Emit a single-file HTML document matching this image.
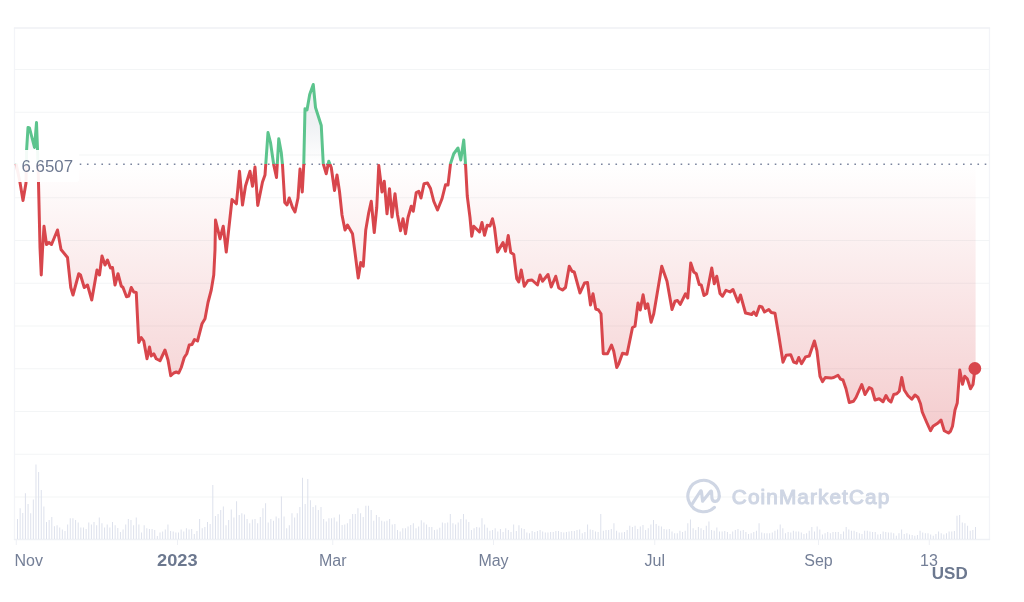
<!DOCTYPE html>
<html><head><meta charset="utf-8"><title>Chart</title>
<style>
html,body{margin:0;padding:0;background:#fff;}
body{width:1024px;height:602px;overflow:hidden;font-family:"Liberation Sans",sans-serif;}
svg{display:block}
text{font-family:"Liberation Sans",sans-serif;}
</style></head><body>
<svg width="1024" height="602" viewBox="0 0 1024 602">
<defs>
<linearGradient id="rg" gradientUnits="userSpaceOnUse" x1="0" y1="164" x2="0" y2="436">
<stop offset="0" stop-color="#d64046" stop-opacity="0"/>
<stop offset="1" stop-color="#d64046" stop-opacity="0.27"/>
</linearGradient>
<linearGradient id="gg" gradientUnits="userSpaceOnUse" x1="0" y1="164" x2="0" y2="84">
<stop offset="0" stop-color="#8693a8" stop-opacity="0"/>
<stop offset="0.5" stop-color="#8693a8" stop-opacity="0.13"/>
<stop offset="1" stop-color="#8693a8" stop-opacity="0.13"/>
</linearGradient>
<clipPath id="up"><rect x="0" y="0" width="1024" height="164"/></clipPath>
<clipPath id="dn"><rect x="0" y="164" width="1024" height="440"/></clipPath>
</defs>
<rect width="1024" height="602" fill="#fff"/>
<g stroke="#f3f5f6" stroke-width="1.2" fill="none"><line x1="15" y1="69.5" x2="989" y2="69.5"/><line x1="15" y1="112.25" x2="989" y2="112.25"/><line x1="15" y1="155" x2="989" y2="155"/><line x1="15" y1="197.75" x2="989" y2="197.75"/><line x1="15" y1="240.5" x2="989" y2="240.5"/><line x1="15" y1="283.25" x2="989" y2="283.25"/><line x1="15" y1="326" x2="989" y2="326"/><line x1="15" y1="368.75" x2="989" y2="368.75"/><line x1="15" y1="411.5" x2="989" y2="411.5"/><line x1="15" y1="454.25" x2="989" y2="454.25"/><line x1="15" y1="497" x2="989" y2="497"/></g>
<path d="M14.5,28V539.5M989.5,28V539.5" fill="none" stroke="#f3f4f8" stroke-width="1.3"/><path d="M13.85,28H990.15M13.85,539.5H990.15" fill="none" stroke="#eff1f5" stroke-width="1.3"/>
<path d="M17.50,539V519.00M20.14,539V508.25M22.78,539V513.00M25.42,539V493.25M28.06,539V504.00M30.70,539V513.25M33.33,539V499.50M35.97,539V464.50M38.61,539V472.00M41.25,539V490.00M43.89,539V506.50M46.53,539V522.00M49.17,539V520.00M51.81,539V517.00M54.45,539V526.25M57.09,539V525.25M59.73,539V527.50M62.37,539V529.50M65.00,539V531.00M67.64,539V524.50M70.28,539V518.25M72.92,539V518.25M75.56,539V520.00M78.20,539V522.50M80.84,539V527.50M83.48,539V527.50M86.12,539V529.00M88.76,539V522.50M91.40,539V524.50M94.03,539V522.00M96.67,539V525.25M99.31,539V517.50M101.95,539V523.25M104.59,539V527.50M107.23,539V524.50M109.87,539V527.50M112.51,539V522.00M115.15,539V525.25M117.79,539V528.00M120.43,539V532.00M123.06,539V529.50M125.70,539V524.50M128.34,539V519.00M130.98,539V520.00M133.62,539V525.25M136.26,539V517.50M138.90,539V524.50M141.54,539V532.50M144.18,539V525.25M146.82,539V528.25M149.46,539V529.00M152.10,539V529.00M154.73,539V530.00M157.37,539V536.00M160.01,539V532.50M162.65,539V531.50M165.29,539V529.50M167.93,539V524.50M170.57,539V531.00M173.21,539V531.50M175.85,539V532.50M178.49,539V532.50M181.13,539V529.50M183.76,539V531.50M186.40,539V528.25M189.04,539V529.50M191.68,539V529.00M194.32,539V534.00M196.96,539V531.00M199.60,539V519.00M202.24,539V528.25M204.88,539V527.00M207.52,539V522.00M210.16,539V524.00M212.79,539V485.00M215.43,539V516.00M218.07,539V514.00M220.71,539V510.00M223.35,539V506.50M225.99,539V525.25M228.63,539V520.00M231.27,539V509.50M233.91,539V517.50M236.55,539V501.25M239.19,539V515.00M241.83,539V513.25M244.46,539V514.50M247.10,539V519.00M249.74,539V523.25M252.38,539V519.50M255.02,539V519.00M257.66,539V523.25M260.30,539V517.00M262.94,539V508.25M265.58,539V503.25M268.22,539V522.50M270.86,539V519.00M273.49,539V520.75M276.13,539V516.50M278.77,539V518.25M281.41,539V496.50M284.05,539V516.50M286.69,539V528.25M289.33,539V525.25M291.97,539V513.25M294.61,539V517.50M297.25,539V513.25M299.89,539V507.00M302.52,539V477.75M305.16,539V504.00M307.80,539V479.00M310.44,539V500.25M313.08,539V507.00M315.72,539V505.25M318.36,539V510.00M321.00,539V507.00M323.64,539V519.00M326.28,539V521.50M328.92,539V518.25M331.56,539V518.25M334.19,539V517.50M336.83,539V521.50M339.47,539V514.50M342.11,539V525.00M344.75,539V524.50M347.39,539V523.25M350.03,539V519.00M352.67,539V514.00M355.31,539V514.00M357.95,539V508.25M360.59,539V513.25M363.22,539V517.00M365.86,539V505.75M368.50,539V505.75M371.14,539V510.00M373.78,539V520.75M376.42,539V515.00M379.06,539V517.00M381.70,539V520.75M384.34,539V521.50M386.98,539V520.75M389.62,539V519.00M392.25,539V524.50M394.89,539V524.00M397.53,539V530.00M400.17,539V531.50M402.81,539V528.25M405.45,539V528.25M408.09,539V526.50M410.73,539V525.00M413.37,539V523.25M416.01,539V528.25M418.65,539V526.50M421.29,539V520.25M423.92,539V522.50M426.56,539V524.50M429.20,539V527.00M431.84,539V527.00M434.48,539V530.00M437.12,539V529.50M439.76,539V527.75M442.40,539V522.50M445.04,539V523.25M447.68,539V522.50M450.32,539V514.00M452.95,539V523.25M455.59,539V524.50M458.23,539V522.50M460.87,539V519.00M463.51,539V514.00M466.15,539V519.50M468.79,539V522.00M471.43,539V530.00M474.07,539V528.25M476.71,539V527.00M479.35,539V527.50M481.98,539V518.25M484.62,539V524.50M487.26,539V527.75M489.90,539V530.75M492.54,539V530.00M495.18,539V528.25M497.82,539V531.50M500.46,539V529.00M503.10,539V532.00M505.74,539V528.25M508.38,539V530.00M511.02,539V532.00M513.65,539V524.50M516.29,539V531.00M518.93,539V525.25M521.57,539V528.25M524.21,539V529.00M526.85,539V532.50M529.49,539V533.25M532.13,539V531.00M534.77,539V532.00M537.41,539V531.00M540.05,539V530.00M542.68,539V531.50M545.32,539V532.50M547.96,539V532.50M550.60,539V532.00M553.24,539V532.00M555.88,539V531.00M558.52,539V531.00M561.16,539V532.00M563.80,539V532.50M566.44,539V532.00M569.08,539V531.50M571.71,539V531.00M574.35,539V531.00M576.99,539V530.00M579.63,539V529.50M582.27,539V533.25M584.91,539V532.00M587.55,539V524.50M590.19,539V529.50M592.83,539V530.00M595.47,539V531.50M598.11,539V532.00M600.75,539V514.00M603.38,539V530.75M606.02,539V530.00M608.66,539V530.00M611.30,539V529.00M613.94,539V523.25M616.58,539V530.75M619.22,539V532.50M621.86,539V532.50M624.50,539V532.00M627.14,539V530.00M629.78,539V525.75M632.41,539V527.00M635.05,539V525.75M637.69,539V529.00M640.33,539V526.50M642.97,539V525.00M645.61,539V530.00M648.25,539V528.25M650.89,539V524.50M653.53,539V520.00M656.17,539V524.00M658.81,539V525.75M661.44,539V526.50M664.08,539V529.00M666.72,539V529.50M669.36,539V529.00M672.00,539V531.50M674.64,539V533.25M677.28,539V533.25M679.92,539V530.75M682.56,539V532.00M685.20,539V530.75M687.84,539V523.25M690.48,539V519.50M693.11,539V528.25M695.75,539V530.00M698.39,539V527.00M701.03,539V528.25M703.67,539V530.00M706.31,539V525.75M708.95,539V521.50M711.59,539V530.00M714.23,539V530.75M716.87,539V527.50M719.51,539V531.50M722.14,539V531.50M724.78,539V531.00M727.42,539V532.00M730.06,539V534.00M732.70,539V531.50M735.34,539V530.00M737.98,539V529.00M740.62,539V530.75M743.26,539V530.00M745.90,539V532.00M748.54,539V534.00M751.17,539V533.25M753.81,539V532.00M756.45,539V530.75M759.09,539V523.25M761.73,539V532.50M764.37,539V533.25M767.01,539V533.25M769.65,539V533.25M772.29,539V532.50M774.93,539V530.75M777.57,539V529.50M780.21,539V524.50M782.84,539V528.25M785.48,539V533.25M788.12,539V532.00M790.76,539V532.50M793.40,539V530.75M796.04,539V531.50M798.68,539V531.50M801.32,539V532.50M803.96,539V534.00M806.60,539V533.25M809.24,539V530.75M811.87,539V527.00M814.51,539V531.50M817.15,539V526.50M819.79,539V529.50M822.43,539V534.50M825.07,539V533.25M827.71,539V532.00M830.35,539V533.25M832.99,539V532.00M835.63,539V532.00M838.27,539V532.00M840.90,539V534.00M843.54,539V531.50M846.18,539V527.00M848.82,539V529.50M851.46,539V530.75M854.10,539V530.75M856.74,539V532.00M859.38,539V533.25M862.02,539V534.00M864.66,539V530.75M867.30,539V530.75M869.94,539V531.50M872.57,539V532.00M875.21,539V532.00M877.85,539V534.50M880.49,539V534.00M883.13,539V531.50M885.77,539V532.00M888.41,539V532.50M891.05,539V532.50M893.69,539V533.25M896.33,539V535.75M898.97,539V533.25M901.60,539V529.50M904.24,539V534.00M906.88,539V533.25M909.52,539V534.50M912.16,539V535.00M914.80,539V535.75M917.44,539V535.00M920.08,539V530.75M922.72,539V532.50M925.36,539V533.25M928.00,539V533.25M930.63,539V534.50M933.27,539V535.75M935.91,539V534.00M938.55,539V531.50M941.19,539V533.25M943.83,539V534.50M946.47,539V533.25M949.11,539V531.50M951.75,539V531.50M954.39,539V531.00M957.03,539V515.75M959.67,539V515.00M962.30,539V522.50M964.94,539V523.25M967.58,539V525.75M970.22,539V530.75M972.86,539V530.00M975.50,539V527.00" stroke="#dbdfeb" stroke-width="0.95" fill="none"/>
<path d="M16.25,540V545M177.5,540V545M332.75,540V545M493.5,540V545M654.75,540V545M818.5,540V545M929.25,540V545" stroke="#eef0f5" stroke-width="1" fill="none"/>
<g id="wm" fill="none" stroke="#cfd6e4" stroke-linecap="round" stroke-linejoin="round">
<path stroke-width="3.1" d="M714.4,507.4A15.7,15.7 0 1 1 719.25,496.3"/>
<path stroke-width="3.1" d="M692.1,504.2 L700.2,491.5 Q701.2,489.9 701.5,491.9 L702.6,501.3 L710.2,491.8 Q711.5,490.2 711.6,492.2 L711.9,498 Q712.3,501.6 715.3,501.4 Q718.9,501 719.25,496.3"/>
</g>
<text x="731.8" y="504.2" font-size="20.8" fill="#cfd6e4" stroke="#cfd6e4" stroke-width="1.1" stroke-linejoin="round" textLength="157.5" lengthAdjust="spacing">CoinMarketCap</text>
<path d="M16.25,164 L16.25,164.50 L20.00,182.50 L23.00,200.50 L26.00,183.00 L26.60,150.00 L28.00,127.50 L29.50,128.00 L34.50,147.50 L36.50,122.50 L37.50,149.00 L38.50,182.50 L40.00,247.50 L41.25,275.00 L42.50,250.00 L44.00,226.25 L46.50,244.50 L49.00,242.50 L51.50,244.50 L57.50,230.00 L61.00,249.50 L67.50,257.50 L70.75,287.50 L73.00,295.00 L78.75,273.75 L80.50,275.00 L84.25,287.50 L87.50,285.00 L91.75,300.00 L97.00,270.00 L99.50,275.00 L102.00,256.00 L105.00,265.00 L107.50,260.00 L110.50,268.00 L112.50,267.50 L115.00,285.00 L118.00,273.75 L121.25,286.00 L123.00,287.50 L126.50,296.75 L128.75,296.00 L131.25,287.50 L133.75,292.00 L136.25,292.50 L138.75,342.50 L141.25,337.50 L143.75,341.00 L147.00,358.75 L149.50,347.00 L151.25,356.00 L153.75,353.75 L156.25,358.75 L160.00,360.75 L165.00,350.00 L168.00,360.00 L170.75,375.75 L173.75,373.00 L176.25,372.00 L178.75,373.00 L181.25,367.50 L184.25,357.50 L186.75,353.75 L189.25,345.00 L192.00,344.50 L194.50,339.50 L197.50,341.00 L202.00,323.75 L205.00,318.75 L208.00,302.50 L211.25,290.00 L213.75,275.00 L215.00,250.00 L215.50,220.00 L220.00,238.75 L223.25,226.25 L226.25,252.00 L232.00,199.50 L236.40,203.80 L239.50,171.25 L242.50,205.00 L245.50,186.00 L250.00,171.25 L252.50,186.25 L255.00,167.00 L257.75,205.50 L262.50,182.00 L265.00,175.00 L268.00,132.50 L270.50,142.50 L273.75,165.00 L276.50,177.50 L278.75,138.75 L281.25,152.50 L282.50,165.00 L284.75,202.50 L287.00,205.00 L289.25,198.00 L292.50,207.50 L295.00,212.00 L298.00,198.00 L300.00,169.00 L302.25,192.00 L303.75,165.00 L305.00,108.75 L307.00,110.00 L309.70,94.50 L313.25,84.50 L315.50,107.50 L317.50,113.75 L321.25,125.50 L323.25,163.75 L326.25,173.75 L328.75,161.25 L331.25,167.50 L334.50,190.50 L337.00,175.00 L339.50,191.50 L342.00,215.00 L345.00,230.00 L347.50,225.00 L352.50,233.75 L355.00,252.50 L358.25,278.00 L360.75,262.50 L363.25,266.25 L365.75,230.00 L368.75,212.50 L371.25,201.25 L374.25,232.50 L376.75,207.50 L378.75,165.50 L382.00,192.00 L384.25,181.25 L387.00,213.75 L389.50,188.75 L392.00,217.00 L395.00,193.75 L397.50,215.00 L400.50,230.75 L403.00,218.75 L405.50,233.75 L408.00,217.50 L411.25,206.25 L413.25,211.25 L416.25,192.50 L418.75,191.25 L421.00,198.00 L424.00,183.75 L427.50,183.00 L430.50,188.50 L433.75,201.25 L437.50,210.00 L442.00,198.75 L445.50,184.75 L448.00,185.00 L450.50,163.75 L453.75,153.75 L458.00,148.00 L460.75,160.00 L463.75,140.00 L465.50,163.75 L467.25,196.00 L470.00,217.50 L471.75,236.25 L473.75,226.25 L479.50,232.00 L482.00,222.50 L484.50,235.25 L487.25,225.25 L490.00,226.00 L492.50,218.75 L494.50,227.50 L497.50,252.00 L503.00,242.50 L505.50,251.25 L508.25,235.50 L510.75,252.50 L513.75,254.50 L516.75,278.75 L518.75,282.00 L521.25,270.00 L524.25,286.25 L528.00,280.50 L532.00,280.00 L537.50,285.00 L540.00,275.00 L542.50,281.25 L548.00,274.50 L551.25,287.00 L555.75,276.25 L558.75,288.00 L562.50,290.00 L565.50,287.50 L569.25,266.25 L572.00,271.25 L574.25,272.00 L580.00,293.00 L584.50,283.00 L587.50,282.50 L590.50,305.00 L593.00,293.75 L595.75,309.00 L598.50,310.00 L601.00,313.75 L603.25,353.75 L607.50,353.75 L611.50,345.00 L613.75,351.25 L616.75,367.50 L618.75,363.75 L622.50,353.25 L627.00,354.25 L632.50,327.50 L635.00,326.25 L638.00,303.00 L640.25,310.00 L643.10,294.75 L645.50,308.40 L647.75,303.75 L651.10,322.25 L653.75,313.75 L661.75,266.25 L667.00,281.25 L672.00,309.50 L675.00,301.25 L677.50,300.50 L680.25,304.40 L685.50,293.75 L687.75,298.00 L690.75,263.00 L693.75,272.00 L696.25,273.75 L699.25,284.50 L701.25,285.00 L704.00,295.50 L706.75,293.75 L711.75,268.00 L714.25,283.75 L716.75,276.25 L720.00,293.40 L722.50,296.25 L726.00,290.25 L730.00,292.00 L733.00,289.50 L738.00,302.00 L740.50,295.00 L745.50,313.00 L748.75,313.75 L751.75,314.50 L753.75,312.00 L756.25,315.50 L759.50,306.25 L762.00,307.00 L764.50,312.00 L768.75,309.50 L771.25,312.50 L775.00,313.25 L779.00,337.00 L783.00,362.25 L786.10,355.25 L790.75,354.75 L793.60,362.00 L796.50,363.10 L798.75,357.50 L801.50,363.75 L805.50,356.90 L809.25,356.00 L814.40,341.00 L816.90,350.60 L820.00,376.25 L822.50,381.60 L825.25,377.50 L831.00,378.10 L833.75,377.50 L838.00,375.25 L840.50,379.10 L843.00,380.00 L846.00,388.75 L849.25,402.50 L853.50,401.25 L856.00,397.50 L861.75,384.50 L865.00,394.50 L869.25,387.50 L871.75,388.75 L875.00,400.00 L879.25,398.75 L883.00,401.75 L886.00,395.50 L888.50,400.00 L891.00,402.00 L893.75,394.50 L896.75,393.75 L899.25,391.25 L901.75,377.50 L904.25,390.00 L908.00,395.75 L911.75,399.25 L915.00,395.00 L918.00,397.50 L920.50,403.75 L922.25,412.00 L926.75,422.50 L930.50,430.75 L933.00,426.25 L938.00,423.00 L941.00,420.00 L944.25,430.75 L948.50,433.00 L950.50,431.25 L952.50,426.25 L955.00,410.00 L957.25,403.00 L959.75,370.00 L962.50,384.25 L964.75,376.25 L967.25,378.75 L970.50,388.75 L973.00,384.50 L974.70,371.00 L975.6,369 L975.6,164 Z" fill="url(#rg)" clip-path="url(#dn)"/>
<path d="M16.25,164 L16.25,164.50 L20.00,182.50 L23.00,200.50 L26.00,183.00 L26.60,150.00 L28.00,127.50 L29.50,128.00 L34.50,147.50 L36.50,122.50 L37.50,149.00 L38.50,182.50 L40.00,247.50 L41.25,275.00 L42.50,250.00 L44.00,226.25 L46.50,244.50 L49.00,242.50 L51.50,244.50 L57.50,230.00 L61.00,249.50 L67.50,257.50 L70.75,287.50 L73.00,295.00 L78.75,273.75 L80.50,275.00 L84.25,287.50 L87.50,285.00 L91.75,300.00 L97.00,270.00 L99.50,275.00 L102.00,256.00 L105.00,265.00 L107.50,260.00 L110.50,268.00 L112.50,267.50 L115.00,285.00 L118.00,273.75 L121.25,286.00 L123.00,287.50 L126.50,296.75 L128.75,296.00 L131.25,287.50 L133.75,292.00 L136.25,292.50 L138.75,342.50 L141.25,337.50 L143.75,341.00 L147.00,358.75 L149.50,347.00 L151.25,356.00 L153.75,353.75 L156.25,358.75 L160.00,360.75 L165.00,350.00 L168.00,360.00 L170.75,375.75 L173.75,373.00 L176.25,372.00 L178.75,373.00 L181.25,367.50 L184.25,357.50 L186.75,353.75 L189.25,345.00 L192.00,344.50 L194.50,339.50 L197.50,341.00 L202.00,323.75 L205.00,318.75 L208.00,302.50 L211.25,290.00 L213.75,275.00 L215.00,250.00 L215.50,220.00 L220.00,238.75 L223.25,226.25 L226.25,252.00 L232.00,199.50 L236.40,203.80 L239.50,171.25 L242.50,205.00 L245.50,186.00 L250.00,171.25 L252.50,186.25 L255.00,167.00 L257.75,205.50 L262.50,182.00 L265.00,175.00 L268.00,132.50 L270.50,142.50 L273.75,165.00 L276.50,177.50 L278.75,138.75 L281.25,152.50 L282.50,165.00 L284.75,202.50 L287.00,205.00 L289.25,198.00 L292.50,207.50 L295.00,212.00 L298.00,198.00 L300.00,169.00 L302.25,192.00 L303.75,165.00 L305.00,108.75 L307.00,110.00 L309.70,94.50 L313.25,84.50 L315.50,107.50 L317.50,113.75 L321.25,125.50 L323.25,163.75 L326.25,173.75 L328.75,161.25 L331.25,167.50 L334.50,190.50 L337.00,175.00 L339.50,191.50 L342.00,215.00 L345.00,230.00 L347.50,225.00 L352.50,233.75 L355.00,252.50 L358.25,278.00 L360.75,262.50 L363.25,266.25 L365.75,230.00 L368.75,212.50 L371.25,201.25 L374.25,232.50 L376.75,207.50 L378.75,165.50 L382.00,192.00 L384.25,181.25 L387.00,213.75 L389.50,188.75 L392.00,217.00 L395.00,193.75 L397.50,215.00 L400.50,230.75 L403.00,218.75 L405.50,233.75 L408.00,217.50 L411.25,206.25 L413.25,211.25 L416.25,192.50 L418.75,191.25 L421.00,198.00 L424.00,183.75 L427.50,183.00 L430.50,188.50 L433.75,201.25 L437.50,210.00 L442.00,198.75 L445.50,184.75 L448.00,185.00 L450.50,163.75 L453.75,153.75 L458.00,148.00 L460.75,160.00 L463.75,140.00 L465.50,163.75 L467.25,196.00 L470.00,217.50 L471.75,236.25 L473.75,226.25 L479.50,232.00 L482.00,222.50 L484.50,235.25 L487.25,225.25 L490.00,226.00 L492.50,218.75 L494.50,227.50 L497.50,252.00 L503.00,242.50 L505.50,251.25 L508.25,235.50 L510.75,252.50 L513.75,254.50 L516.75,278.75 L518.75,282.00 L521.25,270.00 L524.25,286.25 L528.00,280.50 L532.00,280.00 L537.50,285.00 L540.00,275.00 L542.50,281.25 L548.00,274.50 L551.25,287.00 L555.75,276.25 L558.75,288.00 L562.50,290.00 L565.50,287.50 L569.25,266.25 L572.00,271.25 L574.25,272.00 L580.00,293.00 L584.50,283.00 L587.50,282.50 L590.50,305.00 L593.00,293.75 L595.75,309.00 L598.50,310.00 L601.00,313.75 L603.25,353.75 L607.50,353.75 L611.50,345.00 L613.75,351.25 L616.75,367.50 L618.75,363.75 L622.50,353.25 L627.00,354.25 L632.50,327.50 L635.00,326.25 L638.00,303.00 L640.25,310.00 L643.10,294.75 L645.50,308.40 L647.75,303.75 L651.10,322.25 L653.75,313.75 L661.75,266.25 L667.00,281.25 L672.00,309.50 L675.00,301.25 L677.50,300.50 L680.25,304.40 L685.50,293.75 L687.75,298.00 L690.75,263.00 L693.75,272.00 L696.25,273.75 L699.25,284.50 L701.25,285.00 L704.00,295.50 L706.75,293.75 L711.75,268.00 L714.25,283.75 L716.75,276.25 L720.00,293.40 L722.50,296.25 L726.00,290.25 L730.00,292.00 L733.00,289.50 L738.00,302.00 L740.50,295.00 L745.50,313.00 L748.75,313.75 L751.75,314.50 L753.75,312.00 L756.25,315.50 L759.50,306.25 L762.00,307.00 L764.50,312.00 L768.75,309.50 L771.25,312.50 L775.00,313.25 L779.00,337.00 L783.00,362.25 L786.10,355.25 L790.75,354.75 L793.60,362.00 L796.50,363.10 L798.75,357.50 L801.50,363.75 L805.50,356.90 L809.25,356.00 L814.40,341.00 L816.90,350.60 L820.00,376.25 L822.50,381.60 L825.25,377.50 L831.00,378.10 L833.75,377.50 L838.00,375.25 L840.50,379.10 L843.00,380.00 L846.00,388.75 L849.25,402.50 L853.50,401.25 L856.00,397.50 L861.75,384.50 L865.00,394.50 L869.25,387.50 L871.75,388.75 L875.00,400.00 L879.25,398.75 L883.00,401.75 L886.00,395.50 L888.50,400.00 L891.00,402.00 L893.75,394.50 L896.75,393.75 L899.25,391.25 L901.75,377.50 L904.25,390.00 L908.00,395.75 L911.75,399.25 L915.00,395.00 L918.00,397.50 L920.50,403.75 L922.25,412.00 L926.75,422.50 L930.50,430.75 L933.00,426.25 L938.00,423.00 L941.00,420.00 L944.25,430.75 L948.50,433.00 L950.50,431.25 L952.50,426.25 L955.00,410.00 L957.25,403.00 L959.75,370.00 L962.50,384.25 L964.75,376.25 L967.25,378.75 L970.50,388.75 L973.00,384.50 L974.70,371.00 L975.6,369 L975.6,164 Z" fill="url(#gg)" clip-path="url(#up)"/>
<line x1="986.3" y1="164.2" x2="78" y2="164.2" stroke="#7a849e" stroke-width="1.5" stroke-dasharray="1.6 5.64"/>
<path d="M16.25,164.50 L20.00,182.50 L23.00,200.50 L26.00,183.00 L26.60,150.00 L28.00,127.50 L29.50,128.00 L34.50,147.50 L36.50,122.50 L37.50,149.00 L38.50,182.50 L40.00,247.50 L41.25,275.00 L42.50,250.00 L44.00,226.25 L46.50,244.50 L49.00,242.50 L51.50,244.50 L57.50,230.00 L61.00,249.50 L67.50,257.50 L70.75,287.50 L73.00,295.00 L78.75,273.75 L80.50,275.00 L84.25,287.50 L87.50,285.00 L91.75,300.00 L97.00,270.00 L99.50,275.00 L102.00,256.00 L105.00,265.00 L107.50,260.00 L110.50,268.00 L112.50,267.50 L115.00,285.00 L118.00,273.75 L121.25,286.00 L123.00,287.50 L126.50,296.75 L128.75,296.00 L131.25,287.50 L133.75,292.00 L136.25,292.50 L138.75,342.50 L141.25,337.50 L143.75,341.00 L147.00,358.75 L149.50,347.00 L151.25,356.00 L153.75,353.75 L156.25,358.75 L160.00,360.75 L165.00,350.00 L168.00,360.00 L170.75,375.75 L173.75,373.00 L176.25,372.00 L178.75,373.00 L181.25,367.50 L184.25,357.50 L186.75,353.75 L189.25,345.00 L192.00,344.50 L194.50,339.50 L197.50,341.00 L202.00,323.75 L205.00,318.75 L208.00,302.50 L211.25,290.00 L213.75,275.00 L215.00,250.00 L215.50,220.00 L220.00,238.75 L223.25,226.25 L226.25,252.00 L232.00,199.50 L236.40,203.80 L239.50,171.25 L242.50,205.00 L245.50,186.00 L250.00,171.25 L252.50,186.25 L255.00,167.00 L257.75,205.50 L262.50,182.00 L265.00,175.00 L268.00,132.50 L270.50,142.50 L273.75,165.00 L276.50,177.50 L278.75,138.75 L281.25,152.50 L282.50,165.00 L284.75,202.50 L287.00,205.00 L289.25,198.00 L292.50,207.50 L295.00,212.00 L298.00,198.00 L300.00,169.00 L302.25,192.00 L303.75,165.00 L305.00,108.75 L307.00,110.00 L309.70,94.50 L313.25,84.50 L315.50,107.50 L317.50,113.75 L321.25,125.50 L323.25,163.75 L326.25,173.75 L328.75,161.25 L331.25,167.50 L334.50,190.50 L337.00,175.00 L339.50,191.50 L342.00,215.00 L345.00,230.00 L347.50,225.00 L352.50,233.75 L355.00,252.50 L358.25,278.00 L360.75,262.50 L363.25,266.25 L365.75,230.00 L368.75,212.50 L371.25,201.25 L374.25,232.50 L376.75,207.50 L378.75,165.50 L382.00,192.00 L384.25,181.25 L387.00,213.75 L389.50,188.75 L392.00,217.00 L395.00,193.75 L397.50,215.00 L400.50,230.75 L403.00,218.75 L405.50,233.75 L408.00,217.50 L411.25,206.25 L413.25,211.25 L416.25,192.50 L418.75,191.25 L421.00,198.00 L424.00,183.75 L427.50,183.00 L430.50,188.50 L433.75,201.25 L437.50,210.00 L442.00,198.75 L445.50,184.75 L448.00,185.00 L450.50,163.75 L453.75,153.75 L458.00,148.00 L460.75,160.00 L463.75,140.00 L465.50,163.75 L467.25,196.00 L470.00,217.50 L471.75,236.25 L473.75,226.25 L479.50,232.00 L482.00,222.50 L484.50,235.25 L487.25,225.25 L490.00,226.00 L492.50,218.75 L494.50,227.50 L497.50,252.00 L503.00,242.50 L505.50,251.25 L508.25,235.50 L510.75,252.50 L513.75,254.50 L516.75,278.75 L518.75,282.00 L521.25,270.00 L524.25,286.25 L528.00,280.50 L532.00,280.00 L537.50,285.00 L540.00,275.00 L542.50,281.25 L548.00,274.50 L551.25,287.00 L555.75,276.25 L558.75,288.00 L562.50,290.00 L565.50,287.50 L569.25,266.25 L572.00,271.25 L574.25,272.00 L580.00,293.00 L584.50,283.00 L587.50,282.50 L590.50,305.00 L593.00,293.75 L595.75,309.00 L598.50,310.00 L601.00,313.75 L603.25,353.75 L607.50,353.75 L611.50,345.00 L613.75,351.25 L616.75,367.50 L618.75,363.75 L622.50,353.25 L627.00,354.25 L632.50,327.50 L635.00,326.25 L638.00,303.00 L640.25,310.00 L643.10,294.75 L645.50,308.40 L647.75,303.75 L651.10,322.25 L653.75,313.75 L661.75,266.25 L667.00,281.25 L672.00,309.50 L675.00,301.25 L677.50,300.50 L680.25,304.40 L685.50,293.75 L687.75,298.00 L690.75,263.00 L693.75,272.00 L696.25,273.75 L699.25,284.50 L701.25,285.00 L704.00,295.50 L706.75,293.75 L711.75,268.00 L714.25,283.75 L716.75,276.25 L720.00,293.40 L722.50,296.25 L726.00,290.25 L730.00,292.00 L733.00,289.50 L738.00,302.00 L740.50,295.00 L745.50,313.00 L748.75,313.75 L751.75,314.50 L753.75,312.00 L756.25,315.50 L759.50,306.25 L762.00,307.00 L764.50,312.00 L768.75,309.50 L771.25,312.50 L775.00,313.25 L779.00,337.00 L783.00,362.25 L786.10,355.25 L790.75,354.75 L793.60,362.00 L796.50,363.10 L798.75,357.50 L801.50,363.75 L805.50,356.90 L809.25,356.00 L814.40,341.00 L816.90,350.60 L820.00,376.25 L822.50,381.60 L825.25,377.50 L831.00,378.10 L833.75,377.50 L838.00,375.25 L840.50,379.10 L843.00,380.00 L846.00,388.75 L849.25,402.50 L853.50,401.25 L856.00,397.50 L861.75,384.50 L865.00,394.50 L869.25,387.50 L871.75,388.75 L875.00,400.00 L879.25,398.75 L883.00,401.75 L886.00,395.50 L888.50,400.00 L891.00,402.00 L893.75,394.50 L896.75,393.75 L899.25,391.25 L901.75,377.50 L904.25,390.00 L908.00,395.75 L911.75,399.25 L915.00,395.00 L918.00,397.50 L920.50,403.75 L922.25,412.00 L926.75,422.50 L930.50,430.75 L933.00,426.25 L938.00,423.00 L941.00,420.00 L944.25,430.75 L948.50,433.00 L950.50,431.25 L952.50,426.25 L955.00,410.00 L957.25,403.00 L959.75,370.00 L962.50,384.25 L964.75,376.25 L967.25,378.75 L970.50,388.75 L973.00,384.50 L974.70,371.00" fill="none" stroke="#d8464c" stroke-width="3" stroke-linejoin="round" stroke-linecap="round" clip-path="url(#dn)"/>
<path d="M16.25,164.50 L20.00,182.50 L23.00,200.50 L26.00,183.00 L26.60,150.00 L28.00,127.50 L29.50,128.00 L34.50,147.50 L36.50,122.50 L37.50,149.00 L38.50,182.50 L40.00,247.50 L41.25,275.00 L42.50,250.00 L44.00,226.25 L46.50,244.50 L49.00,242.50 L51.50,244.50 L57.50,230.00 L61.00,249.50 L67.50,257.50 L70.75,287.50 L73.00,295.00 L78.75,273.75 L80.50,275.00 L84.25,287.50 L87.50,285.00 L91.75,300.00 L97.00,270.00 L99.50,275.00 L102.00,256.00 L105.00,265.00 L107.50,260.00 L110.50,268.00 L112.50,267.50 L115.00,285.00 L118.00,273.75 L121.25,286.00 L123.00,287.50 L126.50,296.75 L128.75,296.00 L131.25,287.50 L133.75,292.00 L136.25,292.50 L138.75,342.50 L141.25,337.50 L143.75,341.00 L147.00,358.75 L149.50,347.00 L151.25,356.00 L153.75,353.75 L156.25,358.75 L160.00,360.75 L165.00,350.00 L168.00,360.00 L170.75,375.75 L173.75,373.00 L176.25,372.00 L178.75,373.00 L181.25,367.50 L184.25,357.50 L186.75,353.75 L189.25,345.00 L192.00,344.50 L194.50,339.50 L197.50,341.00 L202.00,323.75 L205.00,318.75 L208.00,302.50 L211.25,290.00 L213.75,275.00 L215.00,250.00 L215.50,220.00 L220.00,238.75 L223.25,226.25 L226.25,252.00 L232.00,199.50 L236.40,203.80 L239.50,171.25 L242.50,205.00 L245.50,186.00 L250.00,171.25 L252.50,186.25 L255.00,167.00 L257.75,205.50 L262.50,182.00 L265.00,175.00 L268.00,132.50 L270.50,142.50 L273.75,165.00 L276.50,177.50 L278.75,138.75 L281.25,152.50 L282.50,165.00 L284.75,202.50 L287.00,205.00 L289.25,198.00 L292.50,207.50 L295.00,212.00 L298.00,198.00 L300.00,169.00 L302.25,192.00 L303.75,165.00 L305.00,108.75 L307.00,110.00 L309.70,94.50 L313.25,84.50 L315.50,107.50 L317.50,113.75 L321.25,125.50 L323.25,163.75 L326.25,173.75 L328.75,161.25 L331.25,167.50 L334.50,190.50 L337.00,175.00 L339.50,191.50 L342.00,215.00 L345.00,230.00 L347.50,225.00 L352.50,233.75 L355.00,252.50 L358.25,278.00 L360.75,262.50 L363.25,266.25 L365.75,230.00 L368.75,212.50 L371.25,201.25 L374.25,232.50 L376.75,207.50 L378.75,165.50 L382.00,192.00 L384.25,181.25 L387.00,213.75 L389.50,188.75 L392.00,217.00 L395.00,193.75 L397.50,215.00 L400.50,230.75 L403.00,218.75 L405.50,233.75 L408.00,217.50 L411.25,206.25 L413.25,211.25 L416.25,192.50 L418.75,191.25 L421.00,198.00 L424.00,183.75 L427.50,183.00 L430.50,188.50 L433.75,201.25 L437.50,210.00 L442.00,198.75 L445.50,184.75 L448.00,185.00 L450.50,163.75 L453.75,153.75 L458.00,148.00 L460.75,160.00 L463.75,140.00 L465.50,163.75 L467.25,196.00 L470.00,217.50 L471.75,236.25 L473.75,226.25 L479.50,232.00 L482.00,222.50 L484.50,235.25 L487.25,225.25 L490.00,226.00 L492.50,218.75 L494.50,227.50 L497.50,252.00 L503.00,242.50 L505.50,251.25 L508.25,235.50 L510.75,252.50 L513.75,254.50 L516.75,278.75 L518.75,282.00 L521.25,270.00 L524.25,286.25 L528.00,280.50 L532.00,280.00 L537.50,285.00 L540.00,275.00 L542.50,281.25 L548.00,274.50 L551.25,287.00 L555.75,276.25 L558.75,288.00 L562.50,290.00 L565.50,287.50 L569.25,266.25 L572.00,271.25 L574.25,272.00 L580.00,293.00 L584.50,283.00 L587.50,282.50 L590.50,305.00 L593.00,293.75 L595.75,309.00 L598.50,310.00 L601.00,313.75 L603.25,353.75 L607.50,353.75 L611.50,345.00 L613.75,351.25 L616.75,367.50 L618.75,363.75 L622.50,353.25 L627.00,354.25 L632.50,327.50 L635.00,326.25 L638.00,303.00 L640.25,310.00 L643.10,294.75 L645.50,308.40 L647.75,303.75 L651.10,322.25 L653.75,313.75 L661.75,266.25 L667.00,281.25 L672.00,309.50 L675.00,301.25 L677.50,300.50 L680.25,304.40 L685.50,293.75 L687.75,298.00 L690.75,263.00 L693.75,272.00 L696.25,273.75 L699.25,284.50 L701.25,285.00 L704.00,295.50 L706.75,293.75 L711.75,268.00 L714.25,283.75 L716.75,276.25 L720.00,293.40 L722.50,296.25 L726.00,290.25 L730.00,292.00 L733.00,289.50 L738.00,302.00 L740.50,295.00 L745.50,313.00 L748.75,313.75 L751.75,314.50 L753.75,312.00 L756.25,315.50 L759.50,306.25 L762.00,307.00 L764.50,312.00 L768.75,309.50 L771.25,312.50 L775.00,313.25 L779.00,337.00 L783.00,362.25 L786.10,355.25 L790.75,354.75 L793.60,362.00 L796.50,363.10 L798.75,357.50 L801.50,363.75 L805.50,356.90 L809.25,356.00 L814.40,341.00 L816.90,350.60 L820.00,376.25 L822.50,381.60 L825.25,377.50 L831.00,378.10 L833.75,377.50 L838.00,375.25 L840.50,379.10 L843.00,380.00 L846.00,388.75 L849.25,402.50 L853.50,401.25 L856.00,397.50 L861.75,384.50 L865.00,394.50 L869.25,387.50 L871.75,388.75 L875.00,400.00 L879.25,398.75 L883.00,401.75 L886.00,395.50 L888.50,400.00 L891.00,402.00 L893.75,394.50 L896.75,393.75 L899.25,391.25 L901.75,377.50 L904.25,390.00 L908.00,395.75 L911.75,399.25 L915.00,395.00 L918.00,397.50 L920.50,403.75 L922.25,412.00 L926.75,422.50 L930.50,430.75 L933.00,426.25 L938.00,423.00 L941.00,420.00 L944.25,430.75 L948.50,433.00 L950.50,431.25 L952.50,426.25 L955.00,410.00 L957.25,403.00 L959.75,370.00 L962.50,384.25 L964.75,376.25 L967.25,378.75 L970.50,388.75 L973.00,384.50 L974.70,371.00" fill="none" stroke="#5cc48d" stroke-width="3" stroke-linejoin="round" stroke-linecap="round" clip-path="url(#up)"/>
<circle cx="974.85" cy="368.5" r="6.4" fill="#d8464c"/>
<rect x="15.2" y="150" width="64" height="32" rx="3" fill="#fff" fill-opacity="0.93"/>
<text x="21.5" y="171.6" font-size="15.6" fill="#6d7991" textLength="51.5" lengthAdjust="spacingAndGlyphs">6.6507</text>
<g font-size="16" fill="#747f97">
<text x="14.5" y="565.6">Nov</text>
<text x="177.3" y="565.6" text-anchor="middle" font-weight="bold" fill="#6c788f" textLength="40.5" lengthAdjust="spacingAndGlyphs">2023</text>
<text x="332.75" y="565.6" text-anchor="middle">Mar</text>
<text x="493.5" y="565.6" text-anchor="middle">May</text>
<text x="654.75" y="565.6" text-anchor="middle">Jul</text>
<text x="818.5" y="565.6" text-anchor="middle">Sep</text>
<text x="929" y="565.6" text-anchor="middle">13</text>
<text x="931.8" y="578.6" font-weight="bold" font-size="17" fill="#6c788f">USD</text>
</g>
</svg>
</body></html>
